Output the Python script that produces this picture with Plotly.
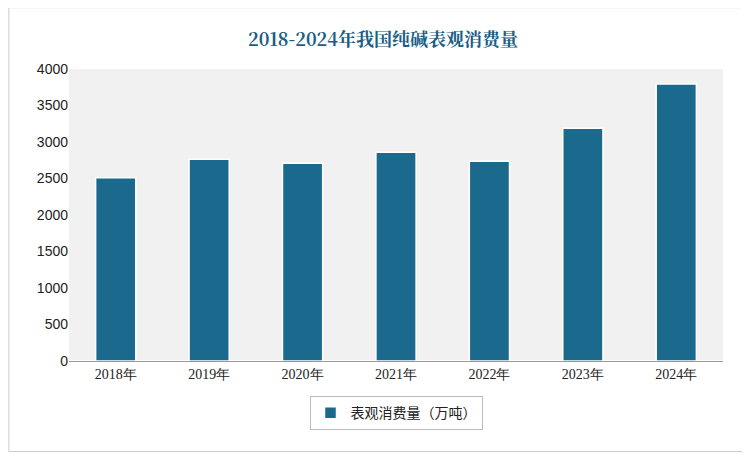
import plotly.graph_objects as go

years = ['2018年', '2019年', '2020年', '2021年', '2022年', '2023年', '2024年']
consumption = [2510, 2765, 2710, 2860, 2735, 3190, 3795]

fig = go.Figure()
fig.add_trace(go.Bar(
    x=years, y=consumption, name='表观消费量（万吨）',
    marker=dict(color='#1b6a8e', line=dict(color='#ffffff', width=1.5)),
    width=0.43,
))

fig.update_layout(
    width=750, height=457,
    title=dict(text='<b>2018-2024年我国纯碱表观消费量</b>', x=0.5, y=0.945, yref='container',
               font=dict(family='Noto Serif CJK SC, Noto Sans CJK SC', size=18, color='#1a5d85')),
    font=dict(family='Noto Sans CJK SC', size=14, color='#222'),
    paper_bgcolor='white', plot_bgcolor='#f1f1f1',
    margin=dict(l=61, r=35, t=61, b=104),
    showlegend=True,
    legend=dict(orientation='h', x=0.5, xanchor='center', y=-0.12, yanchor='top',
                bordercolor='#bbbbbb', borderwidth=1, font=dict(size=14)),
    xaxis=dict(showline=True, linecolor='#999', tickfont=dict(family='Times New Roman, Liberation Serif', size=14)),
    yaxis=dict(range=[0, 4000], dtick=500, showgrid=False, ticks='', ticklen=0,
               tickfont=dict(family='Liberation Sans', size=14)),
    shapes=[dict(type='rect', xref='paper', yref='paper', x0=-0.092, x1=1.045, y0=-0.31, y1=1.21,
                 line=dict(color='#cccccc', width=1))],
)

fig.write_html('out.html')
